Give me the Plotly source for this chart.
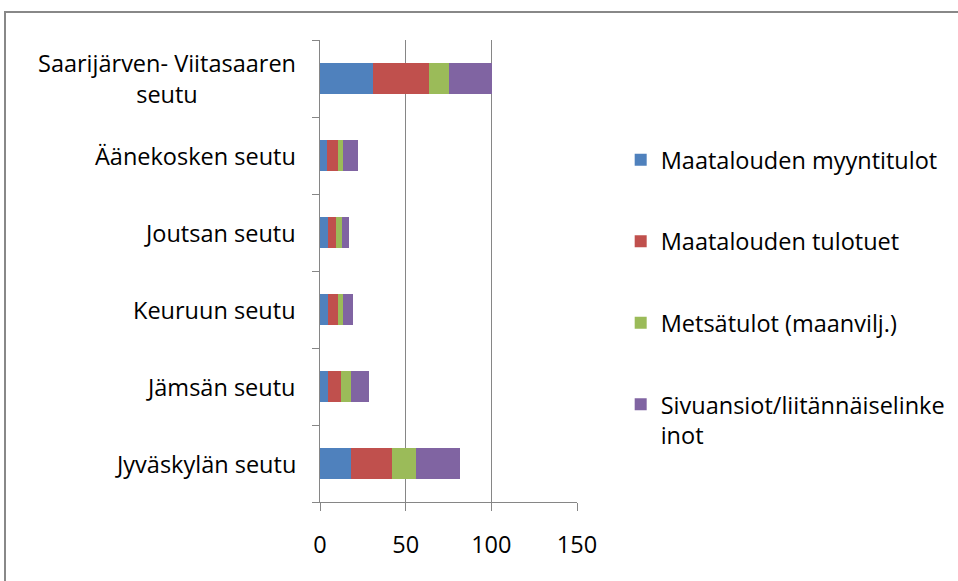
import plotly.graph_objects as go

categories = ["Jyväskylän seutu", "Jämsän seutu", "Keuruun seutu", "Joutsan seutu",
              "Äänekosken seutu", "Saarijärven- Viitasaaren<br>seutu"]
series_names = ["Maatalouden myyntitulot", "Maatalouden tulotuet",
                "Metsätulot (maanvilj.)", "Sivuansiot/liitännäiselinke<br>inot"]
myyntitulot = [18.1, 4.9, 4.9, 4.9, 3.9, 30.8]
tulotuet = [24.0, 7.2, 5.8, 4.3, 6.8, 32.7]
metsatulot = [14.2, 6.0, 2.9, 3.7, 2.9, 11.5]
sivuansiot = [25.5, 10.5, 5.5, 3.9, 8.4, 25.5]
colors = ["#4F81BD", "#C0504D", "#9BBB59", "#8064A2"]
x_ticks = [0, 50, 100, 150]

FONT = "Open Sans"
FS = 23.5
fig = go.Figure()
for i, (name, vals) in enumerate(zip(series_names, [myyntitulot, tulotuet, metsatulot, sivuansiot])):
    fig.add_trace(go.Bar(y=categories, x=vals, orientation="h", name=name,
                         marker=dict(color=colors[i], line=dict(width=0)),
                         legendgroup=f"g{i}"))

annotations = []
for c in categories:
    annotations.append(dict(xref="paper", yref="y", x=-0.085, y=c, text=c,
                            showarrow=False, xanchor="right", yanchor="middle",
                            align="center", font=dict(family=FONT, size=FS, color="#000")))

fig.update_layout(
    width=958, height=581,
    margin=dict(l=320, r=381, t=40, b=79, autoexpand=False),
    paper_bgcolor="white", plot_bgcolor="white",
    barmode="stack", bargap=0.61,
    font=dict(family=FONT, size=FS, color="#000"),
    showlegend=True,
    legend=dict(x=1.17, xanchor="left", y=0.788, yanchor="top",
                traceorder="grouped", tracegroupgap=48, valign="top",
                font=dict(family=FONT, size=FS, color="#000"),
                bgcolor="rgba(0,0,0,0)"),
    xaxis=dict(range=[0, 150], tickvals=x_ticks, showgrid=True, gridcolor="#868686",
               gridwidth=1, showline=True, linecolor="#868686", linewidth=1,
               ticks="outside", ticklen=8, tickcolor="#868686", zeroline=False,
               ticklabelstandoff=14,
               tickfont=dict(family=FONT, size=FS, color="#000")),
    yaxis=dict(type="category", showticklabels=False, showline=True, linecolor="#868686",
               linewidth=1, ticks="outside", ticklen=7, tickcolor="#868686",
               tickson="boundaries", showgrid=False),
    annotations=annotations,
    shapes=[dict(type="rect", xref="paper", yref="paper",
                 x0=(5 - 320) / 257, x1=(990 - 320) / 257,
                 y0=-1, y1=1 + (40 - 12) / 462,
                 line=dict(color="#888888", width=2), fillcolor="rgba(0,0,0,0)", layer="below")],
)
fig.write_html("out.html", config={"displayModeBar": False},
               post_script="document.body.style.margin='0';document.body.style.padding='0';")
